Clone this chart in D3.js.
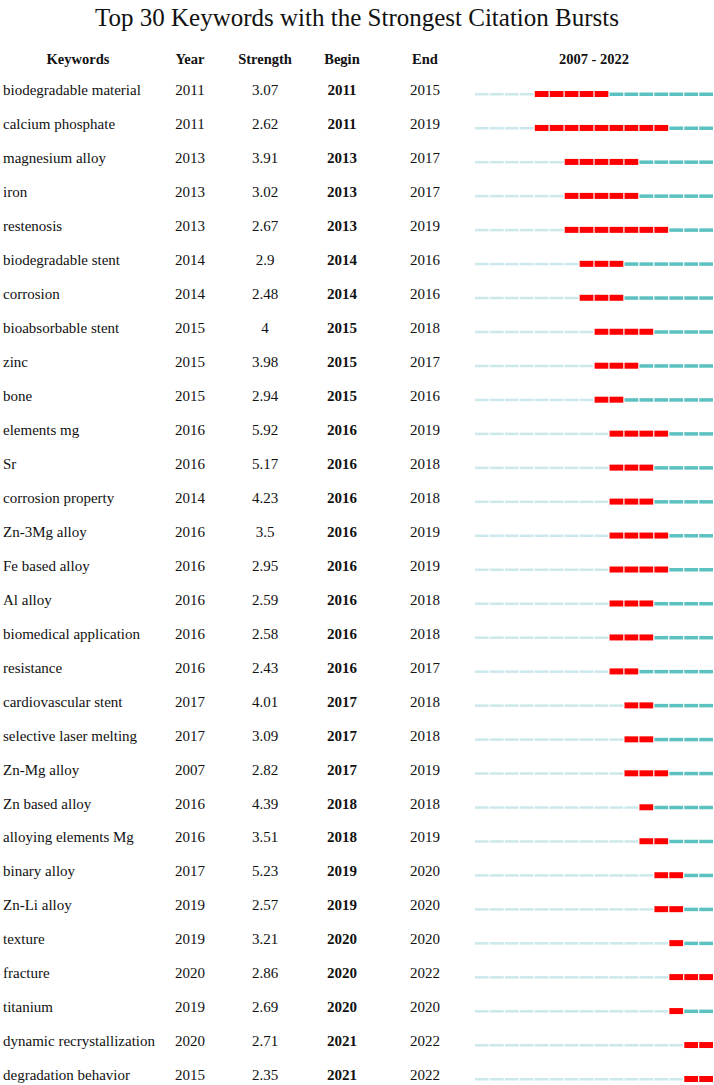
<!DOCTYPE html>
<html>
<head>
<meta charset="utf-8">
<script src="https://cdn.jsdelivr.net/npm/d3@7/dist/d3.min.js"></script>
<style>
  body { margin: 0; background: #fff; }
  text { font-family: "Liberation Serif", "Times New Roman", serif; fill: #111; }
</style>
</head>
<body>
<script>
const keywords = ["biodegradable material", "calcium phosphate", "magnesium alloy", "iron", "restenosis",
  "biodegradable stent", "corrosion", "bioabsorbable stent", "zinc", "bone", "elements mg", "Sr",
  "corrosion property", "Zn-3Mg alloy", "Fe based alloy", "Al alloy", "biomedical application",
  "resistance", "cardiovascular stent", "selective laser melting", "Zn-Mg alloy", "Zn based alloy",
  "alloying elements Mg", "binary alloy", "Zn-Li alloy", "texture", "fracture", "titanium",
  "dynamic recrystallization", "degradation behavior"];
const years = [2011, 2011, 2013, 2013, 2013, 2014, 2014, 2015, 2015, 2015, 2016, 2016, 2014, 2016, 2016,
  2016, 2016, 2016, 2017, 2017, 2007, 2016, 2016, 2017, 2019, 2019, 2020, 2019, 2020, 2015];
const strengths = ["3.07", "2.62", "3.91", "3.02", "2.67", "2.9", "2.48", "4", "3.98", "2.94", "5.92", "5.17",
  "4.23", "3.5", "2.95", "2.59", "2.58", "2.43", "4.01", "3.09", "2.82", "4.39", "3.51", "5.23", "2.57",
  "3.21", "2.86", "2.69", "2.71", "2.35"];
const begins = [2011, 2011, 2013, 2013, 2013, 2014, 2014, 2015, 2015, 2015, 2016, 2016, 2016, 2016, 2016,
  2016, 2016, 2016, 2017, 2017, 2017, 2018, 2018, 2019, 2019, 2020, 2020, 2020, 2021, 2021];
const ends = [2015, 2019, 2017, 2017, 2019, 2016, 2016, 2018, 2017, 2016, 2019, 2018, 2018, 2019, 2019,
  2018, 2018, 2017, 2018, 2018, 2019, 2018, 2019, 2020, 2020, 2020, 2022, 2020, 2022, 2022];
const timeline = d3.range(2007, 2023);

const W = 714, H = 1085;
const svg = d3.select("body").append("svg").attr("width", W).attr("height", H);

svg.append("text").attr("x", 357).attr("y", 26).attr("text-anchor", "middle")
  .style("font-size", "25px").text("Top 30 Keywords with the Strongest Citation Bursts");

const cols = [
  { name: "Keywords", x: 78 },
  { name: "Year", x: 190 },
  { name: "Strength", x: 265 },
  { name: "Begin", x: 342 },
  { name: "End", x: 425 },
  { name: "2007 - 2022", x: 594 }
];
svg.selectAll(".head").data(cols).enter().append("text")
  .attr("class", "head")
  .attr("x", d => d.x).attr("y", 64)
  .attr("text-anchor", "middle")
  .style("font-size", "14.5px").style("font-weight", "bold")
  .text(d => d.name);

const y = d3.scalePoint().domain(d3.range(keywords.length)).range([90, 1075]);
const x = d3.scaleBand().domain(timeline).range([475, 713]).paddingInner(0.08);

const rows = svg.selectAll(".row").data(keywords).enter().append("g")
  .attr("class", "row")
  .attr("transform", (d, i) => `translate(0,${y(i)})`);

rows.append("text").attr("x", 3).attr("dy", "0.35em").style("font-size", "15px").text(d => d);
rows.append("text").attr("x", 190).attr("dy", "0.35em").attr("text-anchor", "middle")
  .style("font-size", "15px").text((d, i) => years[i]);
rows.append("text").attr("x", 265).attr("dy", "0.35em").attr("text-anchor", "middle")
  .style("font-size", "15px").text((d, i) => strengths[i]);
rows.append("text").attr("x", 342).attr("dy", "0.35em").attr("text-anchor", "middle")
  .style("font-size", "15px").style("font-weight", "bold").text((d, i) => begins[i]);
rows.append("text").attr("x", 425).attr("dy", "0.35em").attr("text-anchor", "middle")
  .style("font-size", "15px").text((d, i) => ends[i]);

// burst strips: pale before burst, red during, teal after
rows.each(function (d, i) {
  const g = d3.select(this);
  g.selectAll("rect").data(timeline).enter().append("rect")
    .attr("x", t => x(t))
    .attr("width", x.bandwidth())
    .attr("y", t => t < begins[i] ? 3 : (t <= ends[i] ? 1 : 2.5))
    .attr("height", t => t < begins[i] ? 2.5 : (t <= ends[i] ? 6 : 3.5))
    .attr("fill", t => t < begins[i] ? "#cbe8eb" : (t <= ends[i] ? "#ff0000" : "#5cc1c1"));
});
</script>
</body>
</html>
